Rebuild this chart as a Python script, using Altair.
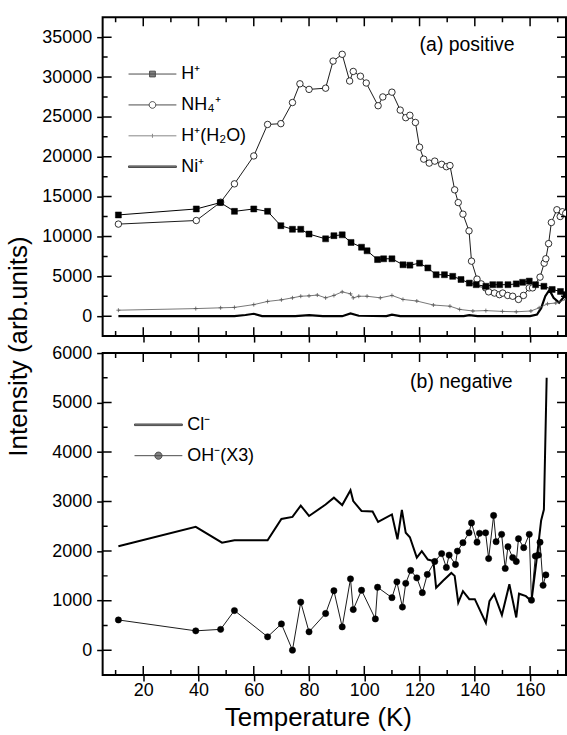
import altair as alt
import pandas as pd

FONT = "Liberation Sans"

# ---------------- data ----------------
# (a) positive ions
h_T = [11, 39.2, 47.9, 53, 60, 65, 69.8, 74, 77, 80, 86, 89, 92, 95.2, 99, 101, 104.8, 107, 110,
       114, 116.5, 120, 123, 126, 129, 132, 135, 138, 140.5, 144, 146.5, 149, 152, 155, 157.3,
       159.7, 162, 165, 168, 171, 173]
h_v = [12700, 13450, 14250, 13150, 13450, 13150, 11350, 10900, 10900, 10300, 9700, 10100, 10200,
       9250, 8650, 8200, 7100, 7200, 7200, 6450, 6400, 6650, 6050, 5200, 5200, 5000, 4600, 4150,
       3950, 3750, 3950, 3950, 3950, 4050, 4250, 4400, 3950, 3750, 3350, 3100, 2700]

nh4_T = [11, 39.2, 48, 53, 60, 65, 69.8, 74, 76.7, 80, 86, 88.7, 92, 94.7, 96, 98.6, 100.7, 105,
         106.7, 110, 113, 115, 116.5, 118.5, 120, 121.5, 123.5, 125.5, 128, 129.7, 131, 132.7, 134,
         135.7, 137.9, 138.8, 140.8, 142.3, 143.9, 145, 147.1, 148.9, 150.1, 151.9, 153.7, 155.8,
         157.6, 159.7, 160.9, 163.6, 165.1, 165.7, 166.7, 167.7, 169.7, 170.9, 171.7, 172.9]
nh4_v = [11550, 12000, 14300, 16600, 20100, 24050, 24150, 26800, 29150, 28450, 28600, 32000, 32850,
         29500, 30700, 30100, 29250, 26400, 27500, 28100, 25850, 24900, 25200, 24300, 21200, 19700,
         19200, 19450, 19050, 18750, 18900, 15850, 14250, 12800, 10700, 6900, 4650, 4050, 3550,
         3050, 2900, 2700, 2900, 2600, 2500, 2100, 2600, 3550, 3550, 4900, 6650, 7200, 9100, 11750,
         13350, 12500, 13100, 12900]

h2o_T = [11, 39, 48, 53, 60, 65, 70, 74, 77, 80, 83, 86, 89, 92, 95, 96, 98, 101, 105.8, 110, 114,
         119, 125, 131, 134.5, 139.3, 144, 150, 155, 160.3, 163.3, 166.3, 169.3, 173]
h2o_v = [750, 950, 1050, 1100, 1450, 1850, 2050, 2300, 2500, 2550, 2650, 2300, 2600, 3050, 2800,
         2300, 2500, 2500, 2300, 2600, 2100, 1900, 1400, 1250, 850, 650, 700, 600, 550, 650, 1050,
         1550, 1650, 2100]

ni_T = [11, 39, 53, 57, 60, 63, 75, 80, 85, 92, 95, 98, 108, 110, 113, 136, 138, 141, 160, 162.5,
        164, 165.5, 167, 168.5, 170.5, 172, 173]
ni_v = [0, 0, 0, 150, 300, 0, 0, 120, 0, 0, 350, 50, 0, 200, 0, 0, 120, 0, 0, 200, 1000, 2500,
        3300, 2300, 1700, 2300, 2700]

# (b) negative ions
cl_T = [11, 39, 48.5, 53, 65, 70, 74, 77, 80, 86, 89, 92, 95, 96, 99, 103, 105, 110, 112, 113.6,
        115, 116.5, 119, 120.8, 123, 125, 126, 128.5, 131.5, 132.7, 134, 135.7, 138, 140, 144,
        145.3, 147, 149.8, 152.5, 155, 156, 158.5, 160.5, 162.3, 164, 165, 166]
cl_v = [2100, 2490, 2170, 2220, 2220, 2650, 2690, 2920, 2710, 2940, 3080, 2930, 3230, 3010, 2810,
        2800, 2590, 2740, 2240, 2830, 2370, 2280, 1870, 2000, 1830, 1800, 1260, 1400, 1560, 1500,
        960, 1190, 1030, 1030, 550, 990, 1130, 710, 1330, 660, 1140, 1090, 990, 1800, 2620, 2840,
        5500]

oh_T = [11, 39, 48, 53, 65, 70, 74, 77, 80, 86, 89, 92, 95, 96, 99, 104, 104.8, 110, 111.8, 113.8,
        115, 116.8, 119, 121, 122.8, 125.5, 128, 129.7, 130.7, 133, 133.7, 135.7, 137.9, 138.8,
        140.8, 141.7, 143.9, 145, 146.8, 147.7, 149.7, 151, 152, 153.7, 155, 155.8, 157.7, 159.7,
        160.5, 161.9, 163, 163.6, 164.7, 165.7]
oh_v = [610, 390, 420, 800, 270, 530, 0, 970, 370, 740, 1200, 470, 1440, 820, 1210, 630, 1270,
        1060, 1380, 870, 1350, 1610, 1460, 1160, 1530, 1790, 1950, 1670, 1920, 1730, 2000, 2170,
        2370, 2570, 2180, 2360, 2370, 1850, 2720, 2190, 2340, 1650, 2090, 1870, 1790, 2250, 2070,
        2340, 1010, 1900, 1920, 2180, 1310, 1520]

top_names = ["H⁺", "NH₄⁺", "H⁺(H₂O)", "Ni⁺"]
bot_names = ["Cl⁻", "OH⁻(X3)"]
top_label = "(a) positive"
bot_label = "(b) negative"

x_major = [20, 40, 60, 80, 100, 120, 140, 160]
x_minor = [10, 30, 50, 70, 90, 110, 130, 150, 170]
top_major = [0, 5000, 10000, 15000, 20000, 25000, 30000, 35000]
top_minor = [2500, 7500, 12500, 17500, 22500, 27500, 32500]
bot_major = [0, 1000, 2000, 3000, 4000, 5000, 6000]
bot_minor = [500, 1500, 2500, 3500, 4500, 5500]

W = 465
XDOM = [5.3, 173]
TOP_YDOM = [-2500, 37500]
BOT_YDOM = [-500, 6000]


def frame(pairs):
    rows = []
    for name, ts, vs in pairs:
        rows += [{"series": name, "T": t, "v": v} for t, v in zip(ts, vs)]
    return pd.DataFrame(rows)


def tick_pairs(ydom, ymaj, ymin):
    # frame tick positions on the four edges, from the tick arrays and the domains
    out = []
    for kind, vals in [("major", x_major), ("minor", x_minor)]:
        out.append(("tick|bottom|" + kind, vals, [ydom[0]] * len(vals)))
        out.append(("tick|top|" + kind, vals, [ydom[1]] * len(vals)))
    for kind, vals in [("major", ymaj), ("minor", ymin)]:
        out.append(("tick|left|" + kind, [XDOM[0]] * len(vals), vals))
        out.append(("tick|right|" + kind, [XDOM[1]] * len(vals), vals))
    return out


df_top = frame([(top_names[0], h_T, h_v), (top_names[1], nh4_T, nh4_v),
                (top_names[2], h2o_T, h2o_v), (top_names[3], ni_T, ni_v)]
               + tick_pairs(TOP_YDOM, top_major, top_minor))
df_bot = frame([(bot_names[0], cl_T, cl_v), (bot_names[1], oh_T, oh_v)]
               + tick_pairs(BOT_YDOM, bot_major, bot_minor))

# ---------------- styles / layout ----------------
PLUS = "M-1,0H1M0,-1V1"
GRAY = "#555555"
top_label_at = (154.4, 34000)
bot_label_at = (153.7, 5420)
TICK_LEN = {"major": 9, "minor": 5}
AXIS_TICK = 6

top_styles = [
    (top_names[3], dict(line="black", lw=2.2, shape=None)),
    (top_names[2], dict(line=GRAY, lw=0.8, shape=PLUS, size=16, fill="transparent", stroke=GRAY, sw=0.8)),
    (top_names[1], dict(line="black", lw=0.9, shape="circle", size=42, fill="white", stroke="black", sw=0.8)),
    (top_names[0], dict(line="black", lw=1.0, shape="square", size=36, fill="black", stroke="black", sw=0.5)),
]
bot_styles = [
    (bot_names[0], dict(line="black", lw=2.0, shape=None)),
    (bot_names[1], dict(line="black", lw=0.9, shape="circle", size=40, fill="black", stroke="black", sw=0.5)),
]

LEG_SQ = "M-3,0H3M-0.36,-0.36H0.36V0.36H-0.36Z"
LEG_OC = "M-3,0H-0.42M0.42,0H3M-0.42,0A0.42,0.42,0,1,0,0.42,0A0.42,0.42,0,1,0,-0.42,0Z"
LEG_PL = "M-3,0H3M0,-0.25V0.25"
LEG_TH = "M-3,-0.1H3V0.1H-3Z"
LEG_DOT = "M-3,0H3M-0.45,0A0.45,0.45,0,1,0,0.45,0A0.45,0.45,0,1,0,-0.45,0Z"


def panel(df, names, styles, leg_paths, leg_fills, leg_strokes, ydom, ymaj, H,
          show_xlabels, ytitle, xtitle, label, label_at, legx, legy):
    XS = alt.Scale(domain=XDOM, nice=False, zero=False)
    YS = alt.Scale(domain=ydom, nice=False, zero=False)
    base = alt.Chart(df)
    X = alt.X("T:Q", scale=XS)
    Y = alt.Y("v:Q", scale=YS)

    common = dict(domain=False, grid=False, ticks=True, tickSize=AXIS_TICK, tickWidth=1.5,
                  tickColor="black", labelFont=FONT, labelFontSize=18, labelColor="black")
    xa = dict(orient="bottom", values=x_major, labels=show_xlabels, labelPadding=1,
              title=xtitle, **common)
    if xtitle:
        xa.update(titleFont=FONT, titleFontSize=26, titleFontWeight="normal", titleColor="black",
                  titleX=216, titleY=43, titleAlign="center", titleBaseline="middle")
    ya = dict(orient="left", values=ymaj, labels=True, labelPadding=5, format="d",
              title=ytitle, **common)
    if ytitle:
        ya.update(titleFont=FONT, titleFontSize=26, titleFontWeight="normal", titleColor="black",
                  titleX=-84, titleY=-7, titleAlign="center", titleBaseline="middle")

    layers = []
    first = True
    for name, st in styles:
        if first:
            xe = alt.X("T:Q", scale=XS, axis=alt.Axis(**xa))
            ye = alt.Y("v:Q", scale=YS, axis=alt.Axis(**ya))
            first = False
        else:
            xe, ye = X, Y
        d = base.transform_filter(alt.datum.series == name).encode(x=xe, y=ye)
        layers.append(d.mark_line(color=st["line"], strokeWidth=st["lw"], clip=True))
        if st["shape"]:
            layers.append(d.mark_point(shape=st["shape"], size=st["size"], filled=True,
                                       fill=st["fill"], stroke=st["stroke"],
                                       strokeWidth=st["sw"], opacity=1, clip=True))

    # inward frame ticks (same kind of point layer as the data markers)
    for kind, L in TICK_LEN.items():
        for side in ["bottom", "top", "left", "right"]:
            vertical = side in ("bottom", "top")
            off = {"bottom": dict(yOffset=-L / 2), "top": dict(yOffset=L / 2),
                   "left": dict(xOffset=L / 2), "right": dict(xOffset=-L / 2)}[side]
            layers.append(
                base.transform_filter(alt.datum.series == "tick|%s|%s" % (side, kind))
                .encode(x=X, y=Y)
                .mark_point(shape="M0,-1V1" if vertical else "M-1,0H1", size=L * L,
                            filled=True, fill="transparent", stroke="black", strokeWidth=1.5,
                            opacity=1, clip=True, **off)
            )

    layers.append(
        alt.Chart(pd.DataFrame({"T": [label_at[0]], "v": [label_at[1]], "txt": [label]}))
        .mark_text(align="right", baseline="middle", font=FONT, fontSize=19.5, color="black")
        .encode(x=X, y=Y, text="txt:N")
    )
    leg = alt.Legend(title=None, orient="none", legendX=legx, legendY=legy, padding=0,
                     labelFont=FONT, labelFontSize=18, labelColor="black", labelOffset=20,
                     rowPadding=13, symbolSize=256, symbolStrokeWidth=1)
    layers.append(
        base.transform_filter("false").mark_point(size=256, strokeWidth=1, filled=False).encode(
            x=X, y=Y,
            shape=alt.Shape("series:N", scale=alt.Scale(domain=names, range=leg_paths), legend=leg),
            fill=alt.Fill("series:N", scale=alt.Scale(domain=names, range=leg_fills), legend=leg),
            stroke=alt.Stroke("series:N", scale=alt.Scale(domain=names, range=leg_strokes), legend=leg),
        )
    )
    return alt.layer(*layers).properties(width=W, height=H)


top = panel(df_top, top_names, top_styles,
            [LEG_SQ, LEG_OC, LEG_PL, LEG_TH], ["black", "white", "transparent", "black"],
            ["black", "black", GRAY, "black"],
            TOP_YDOM, top_major, 320, False, None, None,
            top_label, top_label_at, 41, 48)
bot = panel(df_bot, bot_names, bot_styles,
            [LEG_TH, LEG_DOT], ["black", "black"], ["black", "black"],
            BOT_YDOM, bot_major, 323, True, "Intensity (arb.units)",
            "Temperature (K)", bot_label, bot_label_at, 47, 63)

chart = alt.vconcat(top, bot, spacing=17).resolve_scale(
    x="independent", y="independent", shape="independent", fill="independent", stroke="independent"
).properties(
    bounds="flush", padding={"left": 4, "top": 15, "right": 0, "bottom": 0}
).configure_view(stroke="black", strokeWidth=2)

chart.save("out.html", embed_options={"renderer": "svg", "actions": False})
